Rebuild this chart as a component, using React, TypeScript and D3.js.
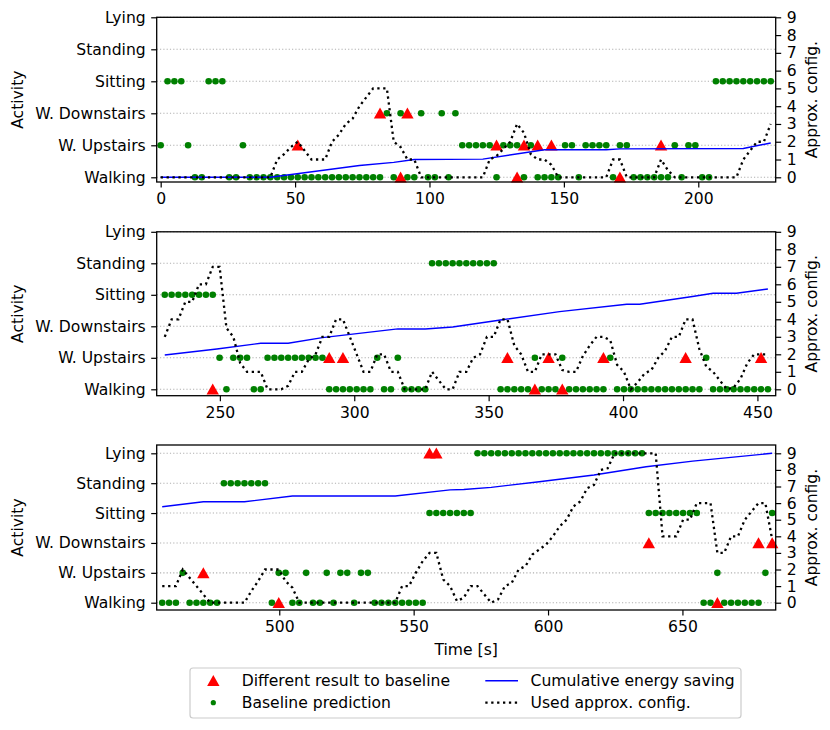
import * as d3 from "d3";
import React, { useEffect, useRef } from "react";

// activity classes, bottom to top
const activities = ["Walking", "W. Upstairs", "W. Downstairs", "Sitting", "Standing", "Lying"];
const activityCodes = ["W", "U", "D", "S", "T", "L"];

// seconds between two classification windows
const windowStep = 2.55;

// baseline prediction, one letter per window (spaces only group the runs)
const baselineP1 =
  "U SSS U WW SSS WW U WWWWWWWWWWWWWWWWWWWW D W D WW D WW D W D UUUUU W UUU W U WWWW UU W UUUU W UU WWWWWW U W UU WW SSSSSSSSS";
const baselineP2 =
  "SSSSSSSS U W UUU WW UUUUUUUUU WWWWWWW U WW U WWWW TTTTTTTTTT WWWWW U WWW U WWWWWW U WWWWWWWWWWWWW U WWWWWWWWW";
const baselineP3 =
  "WWW U WWWWW TTTTTTT W UU WW U WW U W UU W UU WWWWWWWW SSSSSSS LLLLLLLLLLLLLLLLLLLLLLLLL SSSSSSSS WW U WWWWWW U S";

// used approximation config per window
const configP1 = [
  0, 0, 0, 0, 0, 0, 0, 0, 0, 0, 0, 0, 0, 0, 0, 0, 0,
  1, 1.3, 1.7, 2, 1.5, 1, 1, 1, 2, 2.4, 3, 3.3, 4, 4.5, 5, 5, 5, 2, 1.7, 1, 1,
  0, 0, 0, 0, 0, 0, 0, 0, 0, 0,
  1, 1.2, 1.6, 2, 3, 2.5, 1.3, 1, 1, 0.7,
  0, 0, 0, 0, 0, 0, 0, 0,
  1, 1,
  0, 0, 0, 0, 0,
  1, 0.4,
  0, 0, 0, 0, 0, 0, 0, 0, 0, 0,
  1, 1.5, 2, 2, 3,
];
const configP2 = [
  3, 4, 4, 5, 5, 6, 6, 7, 7, 3.5,
  3, 1.5, 1, 1, 1, 0, 0, 0, 0.2, 1,
  1, 1.7, 2, 3, 3, 4, 4, 3, 2, 1,
  1, 2, 2, 1, 1, 0, 0, 0, 0, 1,
  0.5, 0, 0, 1, 1, 1.8, 2, 3, 3, 4,
  4, 2.5, 2, 1, 1, 2, 2, 2, 1.1, 1,
  1, 1.9, 2.5, 3, 3, 2.8, 1.4, 1, 0, 0.4,
  0.9, 1.1, 1.8, 2.2, 3, 3, 4, 4, 2.3, 1.3,
  1, 0.5, 0, 0.1, 0.6, 1.5, 2, 2, 2,
];
const configP3 = [
  1, 1, 1, 2, 1.5, 1, 0.5, 0, 0, 0,
  0, 0, 0, 0.7, 1.3, 2, 2, 2, 1.3, 0.9,
  0, 0, 0, 0, 0, 0, 0, 0, 0, 0,
  0, 0, 0, 0, 0, 1, 1, 1.8, 2.5, 3,
  3, 1.4, 1, 0.1, 0.3, 1, 1, 0.5, 0, 0.2,
  1, 1.2, 2, 2.2, 2.9, 3.2, 3.5, 4, 4.6, 5,
  5.8, 6.1, 6.9, 7.1, 8, 8.1, 9, 9, 9, 9,
  9, 9, 9, 4, 4, 4, 5, 5, 6, 6,
  6, 3, 3, 4, 4, 5, 5.5, 6, 6, 3.8,
];

// windows where the approximated result differs from the baseline
const approxWindows = [
  20, 32, 35, 36, 49, 52, 53, 55, 57, 67, 73,
  97, 114, 116, 140, 144, 146, 148, 154, 166, 177,
  185, 196, 218, 219, 250, 260, 266, 268,
];
const approxCodes = [
  "U", "D", "W", "D", "U", "W", "U", "U", "U", "W", "U",
  "W", "U", "U", "U", "W", "U", "W", "U", "U", "U",
  "U", "W", "L", "L", "D", "W", "D", "D",
];

// cumulative energy saving (right axis units), at window positions
const energyWindows = [
  0, 16, 29, 34, 37, 47, 56, 65, 67, 85, 89,
  90, 97.6, 104, 108, 113, 124, 128, 132, 133, 139, 147.6, 157.4, 159.3, 167, 170, 173.4, 178,
  179, 185, 191, 198, 213, 221, 223, 227, 234, 242, 249.6, 256.4, 268,
];
const energyValues = [
  0, 0, 0.66, 0.84, 1.0, 1.02, 1.55, 1.55, 1.6, 1.62, 1.93,
  1.96, 2.3, 2.63, 2.63, 2.95, 3.45, 3.45, 3.56, 3.62, 3.96, 4.44, 4.86, 4.86, 5.3, 5.49, 5.49, 5.73,
  5.78, 6.08, 6.08, 6.43, 6.43, 6.8, 6.82, 6.95, 7.29, 7.69, 8.19, 8.53, 9.0,
];

const xTicksP1 = [0, 50, 100, 150, 200];
const xTicksP2 = [250, 300, 350, 400, 450];
const xTicksP3 = [500, 550, 600, 650];
const configTicks = [0, 1, 2, 3, 4, 5, 6, 7, 8, 9];

const W = 830;
const H = 730;
const LEFT = 156.7;
const RIGHT = 775.7;
const FONT = "DejaVu Sans";
const FS = 15.6;
const CFG_PER_CAT = 1.8; // right axis 0..9 spans categories 0..5
const TRI = "M0,-5.7L6.2,5.3L-6.2,5.3Z";

const panels = [
  { baseline: baselineP1, config: configP1, first: 0, xlim: [-1.48, 228.8], xTicks: xTicksP1, top: 17.3, bottom: 182, ylim: [-0.147, 5] },
  { baseline: baselineP2, config: configP2, first: 90, xlim: [226.5, 456.8], xTicks: xTicksP2, top: 231.8, bottom: 395.7, ylim: [-0.203, 5] },
  { baseline: baselineP3, config: configP3, first: 179, xlim: [454.4, 684.7], xTicks: xTicksP3, top: 445, bottom: 610, ylim: [-0.244, 5.278] },
];

export default function App() {
  const ref = useRef<SVGSVGElement>(null);

  useEffect(() => {
    const svg = d3.select(ref.current);
    svg.selectAll("*").remove();
    svg.append("rect").attr("width", W).attr("height", H).attr("fill", "white");

    panels.forEach((p) => {
      const codes = p.baseline.replace(/ /g, "").split("");
      const last = p.first + codes.length - 1;
      const x = d3.scaleLinear().domain(p.xlim).range([LEFT, RIGHT]);
      const y = d3.scaleLinear().domain(p.ylim).range([p.bottom, p.top]);
      const yc = d3
        .scaleLinear()
        .domain([p.ylim[0] * CFG_PER_CAT, p.ylim[1] * CFG_PER_CAT])
        .range([p.bottom, p.top]);
      const g = svg.append("g");

      // grid on the activity rows
      g.selectAll("line.grid")
        .data(d3.range(activities.length))
        .enter()
        .append("line")
        .attr("x1", LEFT)
        .attr("x2", RIGHT)
        .attr("y1", (d) => y(d))
        .attr("y2", (d) => y(d))
        .attr("stroke", "#b0b0b0")
        .attr("stroke-width", 1.1)
        .attr("stroke-dasharray", "1.2,2.1");

      // baseline prediction
      g.selectAll("circle")
        .data(codes)
        .enter()
        .append("circle")
        .attr("cx", (c, j) => x((p.first + j) * windowStep))
        .attr("cy", (c) => y(activityCodes.indexOf(c)))
        .attr("r", 3.3)
        .attr("fill", "#008000");

      // different result to baseline
      const tri = approxWindows
        .map((w, k) => ({ w, c: approxCodes[k] }))
        .filter((d) => d.w >= p.first && d.w <= last);
      g.selectAll("path.tri")
        .data(tri)
        .enter()
        .append("path")
        .attr("d", TRI)
        .attr("transform", (d) => `translate(${x(d.w * windowStep)},${y(activityCodes.indexOf(d.c))})`)
        .attr("fill", "#ff0000");

      // cumulative energy saving
      const en = energyWindows
        .map((w, k) => [w, energyValues[k]])
        .filter((d) => d[0] >= p.first && d[0] <= last);
      const line = d3
        .line<number[]>()
        .x((d) => x(d[0] * windowStep))
        .y((d) => yc(d[1]));
      g.append("path")
        .attr("d", line(en))
        .attr("fill", "none")
        .attr("stroke", "#0000ff")
        .attr("stroke-width", 1.4);

      // used approx config
      const cfg = p.config.map((v, j) => [p.first + j, v]);
      g.append("path")
        .attr("d", line(cfg))
        .attr("fill", "none")
        .attr("stroke", "black")
        .attr("stroke-width", 2.3)
        .attr("stroke-dasharray", "2.3,3.6");

      // axes
      const styleAxis = (a) => {
        a.attr("font-size", FS).attr("font-family", FONT);
        a.select(".domain").remove();
        a.selectAll("line").attr("stroke", "black").attr("stroke-width", 1.2);
        a.selectAll("text").attr("fill", "black");
      };
      g.append("g")
        .attr("transform", `translate(0,${p.bottom})`)
        .call(d3.axisBottom(x).tickValues(p.xTicks).tickSize(5.5).tickPadding(5.5).tickSizeOuter(0))
        .call(styleAxis);
      g.append("g")
        .attr("transform", `translate(${LEFT},0)`)
        .call(
          d3
            .axisLeft(y)
            .tickValues(d3.range(activities.length))
            .tickFormat((d) => activities[d])
            .tickSize(5.5)
            .tickPadding(5.5)
            .tickSizeOuter(0)
        )
        .call(styleAxis);
      g.append("g")
        .attr("transform", `translate(${RIGHT},0)`)
        .call(d3.axisRight(yc).tickValues(configTicks).tickFormat(d3.format("d")).tickSize(5.5).tickPadding(5.5).tickSizeOuter(0))
        .call(styleAxis);

      g.append("rect")
        .attr("x", LEFT)
        .attr("y", p.top)
        .attr("width", RIGHT - LEFT)
        .attr("height", p.bottom - p.top)
        .attr("fill", "none")
        .attr("stroke", "black")
        .attr("stroke-width", 1.3);

      const mid = (p.top + p.bottom) / 2;
      g.append("text")
        .attr("transform", `translate(18.3,${mid}) rotate(-90)`)
        .attr("text-anchor", "middle")
        .attr("dominant-baseline", "central")
        .attr("font-family", FONT)
        .attr("font-size", FS)
        .text("Activity");
      g.append("text")
        .attr("transform", `translate(811.5,${mid}) rotate(-90)`)
        .attr("text-anchor", "middle")
        .attr("dominant-baseline", "central")
        .attr("font-family", FONT)
        .attr("font-size", FS)
        .text("Approx. config.");
    });

    svg.append("text")
      .attr("x", (LEFT + RIGHT) / 2)
      .attr("y", 650)
      .attr("text-anchor", "middle")
      .attr("dominant-baseline", "central")
      .attr("font-family", FONT)
      .attr("font-size", FS)
      .text("Time [s]");

    // legend
    const lg = svg.append("g").attr("font-family", FONT).attr("font-size", FS);
    lg.append("rect")
      .attr("x", 190)
      .attr("y", 668)
      .attr("width", 551)
      .attr("height", 50)
      .attr("rx", 3)
      .attr("fill", "white")
      .attr("stroke", "#cccccc")
      .attr("stroke-width", 1.2);
    const row1 = 680.7;
    const row2 = 702.7;
    lg.append("path").attr("d", TRI).attr("transform", `translate(213.3,${row1})`).attr("fill", "#ff0000");
    lg.append("circle").attr("cx", 213.3).attr("cy", row2).attr("r", 2.6).attr("fill", "#008000");
    lg.append("line").attr("x1", 485.3).attr("x2", 518).attr("y1", row1).attr("y2", row1).attr("stroke", "#0000ff").attr("stroke-width", 1.4);
    lg.append("line")
      .attr("x1", 485.3)
      .attr("x2", 518)
      .attr("y1", row2)
      .attr("y2", row2)
      .attr("stroke", "black")
      .attr("stroke-width", 2.3)
      .attr("stroke-dasharray", "2.3,3.6");
    const labels = [
      ["Different result to baseline", 241.7, row1],
      ["Baseline prediction", 241.7, row2],
      ["Cumulative energy saving", 530.5, row1],
      ["Used approx. config.", 530.5, row2],
    ];
    labels.forEach(([t, lx, ly]) => {
      lg.append("text").attr("x", lx).attr("y", ly).attr("dominant-baseline", "central").text(t);
    });
  }, []);

  return (
    <svg
      ref={ref}
      width={W}
      height={H}
      style={{ position: "absolute", left: 0, top: 0 }}
    />
  );
}
